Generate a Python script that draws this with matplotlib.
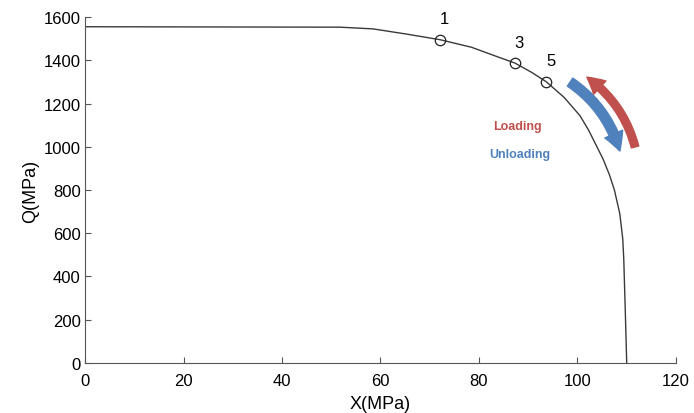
import matplotlib.pyplot as plt
from matplotlib.patches import FancyArrowPatch

plt.rcParams['font.family'] = ['Liberation Sans', 'DejaVu Sans']

# Yield curve
x_curve = [0, 51.8, 58.5, 65.3, 72.1, 78.5, 82.2, 87.3, 90.7, 93.7, 97.3, 100.5,
           102.3, 105.2, 106.5, 107.5, 108.6, 109.2, 109.4, 109.7, 110.0]
q_curve = [1555, 1553, 1545, 1521, 1495, 1460, 1429, 1387, 1344, 1300, 1228, 1144,
           1075, 943, 870, 800, 690, 573, 481, 250, 0]

# Marked points and their labels
x_pts = [72.1, 87.3, 93.7]
q_pts = [1495, 1387, 1300]
pt_labels = ['1', '3', '5']

red = '#c0504d'
blue = '#4f81bd'

fig = plt.figure(figsize=(6.94, 4.14), dpi=100)
ax = fig.add_axes([0.1225, 0.1208, 0.8515, 0.8357])

ax.plot(x_curve, q_curve, color='#3a3a3a', lw=1.0)
ax.plot(x_pts, q_pts, 'o', mfc='none', mec='#222222', ms=7.5, mew=0.9)
for x, q, lab in zip(x_pts, q_pts, pt_labels):
    ax.text(x + 0.9, q + 62, lab, fontsize=12, ha='center', va='bottom')

# loading / unloading arrows
ax.add_patch(FancyArrowPatch((98.5, 1299), (108.6, 980), connectionstyle='arc3,rad=-0.18',
                             arrowstyle='simple,head_width=14,head_length=13,tail_width=7',
                             color=blue, mutation_scale=1, shrinkA=0, shrinkB=0))
ax.add_patch(FancyArrowPatch((111.7, 999), (101.9, 1322), connectionstyle='arc3,rad=0.18',
                             arrowstyle='simple,head_width=13,head_length=12,tail_width=5.5',
                             color=red, mutation_scale=1, shrinkA=0, shrinkB=0))
ax.text(87.8, 1095, 'Loading', color=red, fontsize=9, fontweight='bold', ha='center', va='center')
ax.text(88.2, 965, 'Unloading', color=blue, fontsize=9, fontweight='bold', ha='center', va='center')

ax.set_xlim(0, 120)
ax.set_ylim(0, 1600)
ax.set_xticks(range(0, 121, 20))
ax.set_yticks(range(0, 1601, 200))
ax.set_xlabel('X(MPa)', fontsize=13, labelpad=5)
ax.set_ylabel('Q(MPa)', fontsize=13, labelpad=3)
for s in ['top', 'right']:
    ax.spines[s].set_visible(False)
for s in ['left', 'bottom']:
    ax.spines[s].set_color('#555555')
ax.tick_params(direction='in', length=4, color='#555555', labelsize=12)
ax.tick_params(axis='x', pad=7)
ax.tick_params(axis='y', pad=3)

plt.savefig('out.png', dpi=100)
